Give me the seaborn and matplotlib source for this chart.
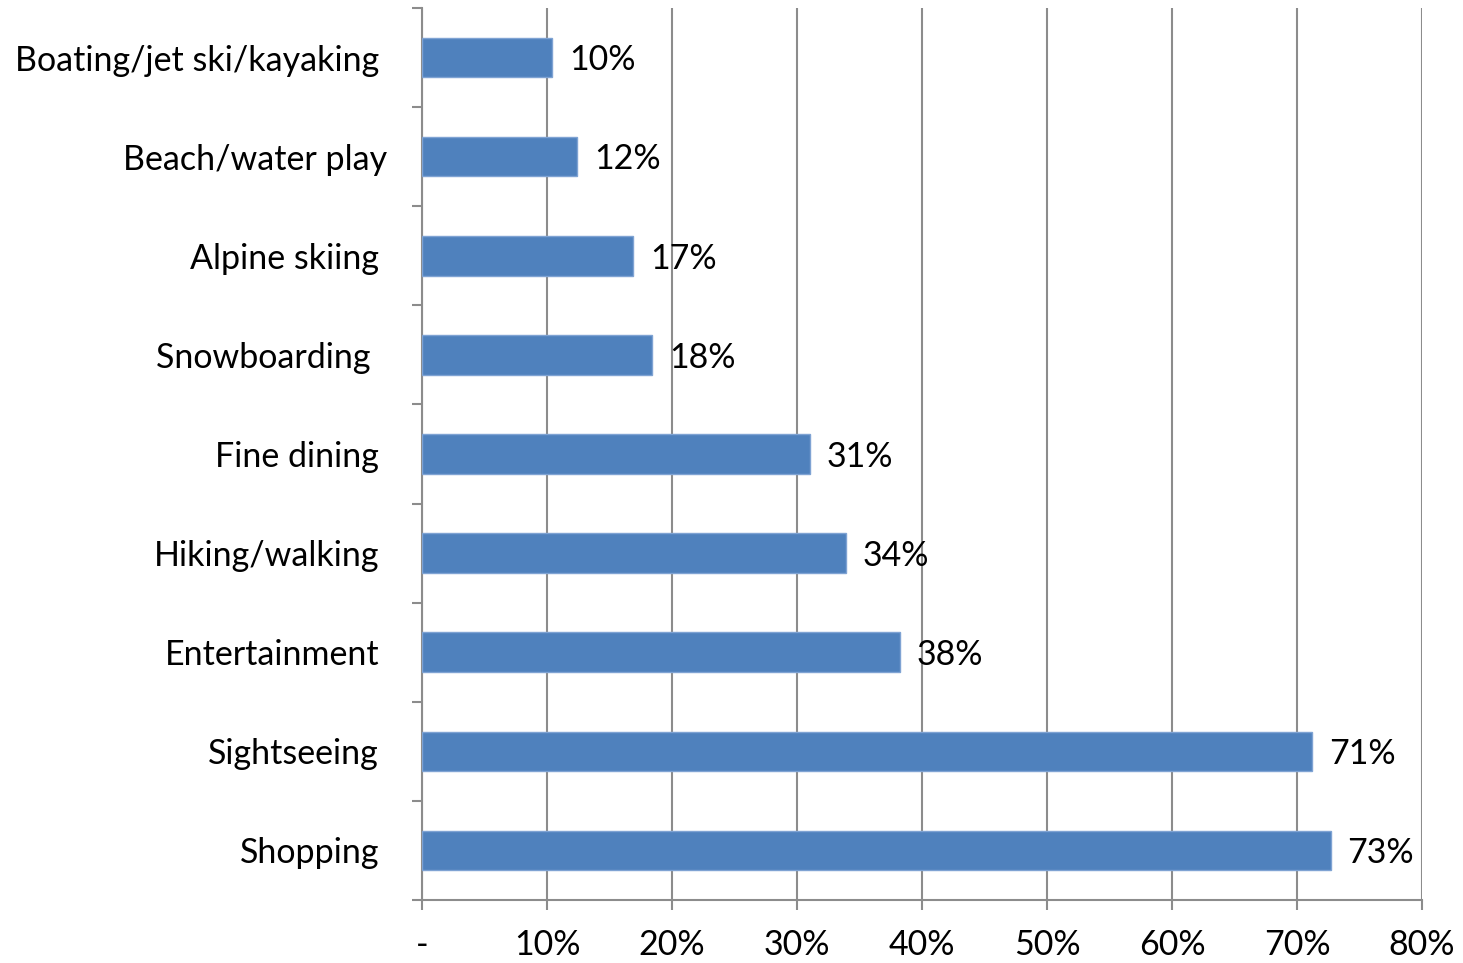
import matplotlib
matplotlib.use("Agg")
import matplotlib.pyplot as plt
import matplotlib.transforms as mtransforms
import seaborn as sns
import pandas as pd
import numpy as np

# Share of visitors taking part in each activity (%)
activities = [
    "Boating/jet ski/kayaking",
    "Beach/water play",
    "Alpine skiing",
    "Snowboarding ",
    "Fine dining",
    "Hiking/walking",
    "Entertainment",
    "Sightseeing",
    "Shopping",
]
shares = [10.4, 12.4, 16.9, 18.4, 31.0, 33.9, 38.2, 71.2, 72.7]
x_ticks = [0, 10, 20, 30, 40, 50, 60, 70, 80]
x_tick_labels = ["-", "10%", "20%", "30%", "40%", "50%", "60%", "70%", "80%"]

df = pd.DataFrame({"activity": activities, "share": shares})

sns.set_theme(style="white")
plt.rcParams["font.family"] = ["Lato", "DejaVu Sans"]

FS = 24.5
GREY = "#8c8c8c"
BAR = "#4f81bd"

fig = plt.figure(figsize=(14.63, 9.63), dpi=100)
ax = fig.add_axes([0.2885, 0.0654, 0.972 - 0.2885, 0.9917 - 0.0654])

sns.barplot(data=df, y="activity", x="share", orient="h", color=BAR,
            width=0.4, saturation=1, edgecolor="#7fa3d3", linewidth=1,
            ax=ax, zorder=3)

ax.set_xlim(0, 80)
ax.set_ylim(len(activities) - 0.5, -0.5)
ax.set_xticks(x_ticks)
ax.set_xticklabels(x_tick_labels, fontsize=FS, color="black")
ax.set_xlabel("")
ax.set_ylabel("")

# Category labels, ticks at boundaries between bars
ax.set_yticks(range(len(activities)))
ax.set_yticklabels(activities, fontsize=FS, color="black")
ax.set_yticks(np.arange(-0.5, len(activities), 1.0), minor=True)
ax.tick_params(axis="y", which="major", left=True, length=0, pad=31)
ax.tick_params(axis="y", which="minor", left=True, length=7.2, width=1.5,
               color=GREY, direction="out")
ax.tick_params(axis="x", which="major", bottom=True, length=7.2, width=1.5,
               color=GREY, direction="out", pad=14)

for lbl in ax.get_yticklabels():
    if lbl.get_text() == "Beach/water play":
        lbl.set_transform(lbl.get_transform() +
                          mtransforms.ScaledTranslation(8 / 100, 0, fig.dpi_scale_trans))

ax.grid(axis="x", color=GREY, linewidth=1.5, zorder=0)
ax.grid(axis="y", visible=False)
ax.set_axisbelow(True)
for side in ("top", "right"):
    ax.spines[side].set_visible(False)
for side in ("left", "bottom"):
    ax.spines[side].set_color(GREY)
    ax.spines[side].set_linewidth(1.5)

# Value labels at the bar ends
for i, v in enumerate(shares):
    ax.annotate(f"{v:.0f}%", xy=(v, i), xytext=(12, -2), textcoords="offset points",
                ha="left", va="center", fontsize=FS, color="black")

fig.savefig("out.png", dpi=100)
